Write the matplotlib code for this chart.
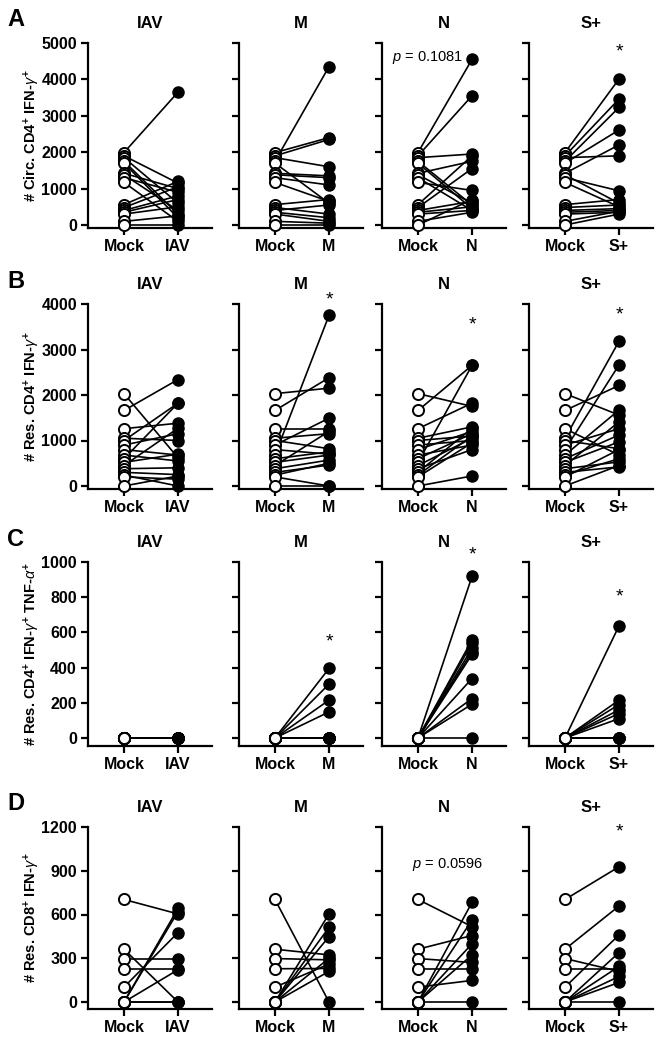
import numpy as np
import matplotlib
matplotlib.use("Agg")
import matplotlib.pyplot as plt

plt.rcParams["font.family"] = ["Liberation Sans", "DejaVu Sans"]
plt.rcParams["mathtext.fontset"] = "custom"
plt.rcParams["mathtext.rm"] = "Liberation Sans"
plt.rcParams["mathtext.it"] = "Liberation Sans:italic"
plt.rcParams["mathtext.bf"] = "Liberation Sans:bold"

#%%-1 data
groups = ["IAV", "M", "N", "S+"]
panel_letters = ["A", "B", "C", "D"]

# row A: circulating CD4+ IFN-g+
mock_a = [1990, 1900, 1850, 1750, 1700, 1420, 1380, 1300, 1170, 560, 480, 400, 350, 300, 100, 0]
iav_a = [3650, 1150, 600, 300, 200, 1000, 400, 900, 100, 1200, 1050, 800, 700, 500, 250, 0]
m_a = [2400, 2350, 1600, 4350, 600, 1350, 1300, 1100, 650, 700, 300, 550, 200, 100, 50, 0]
n_a = [4550, 3550, 1950, 550, 450, 1750, 600, 400, 950, 1900, 1550, 650, 500, 400, 350, 700]
s_a = [4010, 3460, 1900, 3230, 2610, 2200, 600, 940, 500, 700, 550, 450, 400, 350, 380, 300]

# row B: resident CD4+ IFN-g+
mock_b = [2030, 1660, 1260, 1050, 1000, 900, 800, 680, 600, 520, 450, 380, 300, 240, 200, 0]
iav_b = [620, 2340, 1380, 1000, 1820, 1150, 680, 550, 1820, 700, 1270, 400, 250, 0, 150, 220]
m_b = [2150, 2380, 1260, 1150, 820, 1490, 700, 3750, 750, 680, 1200, 570, 460, 500, 0, 0]
n_b = [1750, 2650, 1820, 1300, 1100, 1000, 1200, 900, 1150, 2650, 1050, 800, 1270, 1100, 950, 220]
s_b = [1560, 2210, 680, 3180, 820, 1260, 2660, 1670, 1120, 970, 1410, 530, 420, 600, 800, 450]

# row C: resident CD4+ IFN-g+ TNF-a+
mock_c = [0, 0, 0, 0, 0, 0, 0, 0, 0, 0]
iav_c = [0, 0, 0, 0, 0, 0, 0, 0, 0, 0]
m_c = [395, 306, 215, 148, 0, 0, 0, 0, 0, 0]
n_c = [918, 557, 538, 510, 490, 475, 338, 224, 192, 0]
s_c = [637, 215, 190, 160, 139, 110, 0, 0, 0, 0]

# row D: resident CD8+ IFN-g+
mock_d = [703, 362, 298, 228, 102, 0, 0, 0, 0, 0]
iav_d = [604, 0, 298, 228, 476, 642, 620, 221, 0, 0]
m_d = [0, 323, 289, 230, 260, 604, 512, 448, 210, 300]
n_d = [517, 456, 271, 228, 148, 683, 562, 399, 323, 0]
s_d = [927, 658, 210, 228, 460, 339, 244, 175, 134, 0]

y_maxes = [5000, 4000, 1000, 1200]
y_steps = [1000, 1000, 200, 300]
y_labels = [
    r"# Circ. CD4$^{\mathbf{+}}$ IFN-$\gamma^{\mathbf{+}}$",
    r"# Res. CD4$^{\mathbf{+}}$ IFN-$\gamma^{\mathbf{+}}$",
    r"# Res. CD4$^{\mathbf{+}}$ IFN-$\gamma^{\mathbf{+}}$ TNF-$\alpha^{\mathbf{+}}$",
    r"# Res. CD8$^{\mathbf{+}}$ IFN-$\gamma^{\mathbf{+}}$",
]

# stars / p values: (row, col, y value)
stars = [(0, 3, 4750), (1, 1, 4090), (1, 2, 3540), (1, 3, 3760),
         (2, 1, 545), (2, 2, 1040), (2, 3, 800), (3, 3, 1166)]
p_notes = [(0, 2, 0.17, 4600, "0.1081"), (3, 2, 0.54, 940, "0.0596")]

#%%-2 layout (pixels)
W, H = 665, 1050
col_left = [88, 239, 382, 529]
col_width = 124
# top tick, zero, axis line
row_px = [(43, 225, 228), (304, 486, 489), (562, 738, 746), (827, 1002, 1009)]


def make_axes(fig, r, c):
    top, zero, line = row_px[r]
    ax = fig.add_axes([col_left[c] / W, 1 - line / H, col_width / W, (line - top) / H])
    ymax = y_maxes[r]
    ymin = -(line - zero) / (zero - top) * ymax
    ax.set_ylim(ymin, ymax)
    ax.set_xlim(-36 / 54, 88 / 54)
    for s in ["top", "right"]:
        ax.spines[s].set_visible(False)
    for s in ["left", "bottom"]:
        ax.spines[s].set_linewidth(1.6)
    ax.set_yticks(np.arange(0, ymax + 1, y_steps[r]))
    ax.set_xticks([0, 1])
    ax.set_xticklabels(["Mock", groups[c]], fontsize=11.5, fontweight="bold")
    ax.tick_params(direction="out", length=5, width=1.6, labelsize=11.5, pad=3)
    for lab in ax.get_yticklabels():
        lab.set_fontweight("bold")
    if c > 0:
        ax.set_yticklabels([])
    ax.set_title(groups[c], fontsize=12, fontweight="bold", pad=11)
    return ax


def paired(ax, mock, treat):
    for m, t in zip(mock, treat):
        ax.plot([0, 1], [m, t], color="black", lw=1.2, zorder=2, clip_on=False)
    ax.plot(np.ones(len(treat)), treat, "o", ms=8, mfc="black", mec="black",
            zorder=3, clip_on=False)
    ax.plot(np.zeros(len(mock)), mock, "o", ms=8, mfc="white", mec="black",
            mew=1.4, zorder=4, clip_on=False)


def main():
    fig = plt.figure(figsize=(W / 100, H / 100), dpi=100)
    rows = [
        (mock_a, [iav_a, m_a, n_a, s_a]),
        (mock_b, [iav_b, m_b, n_b, s_b]),
        (mock_c, [iav_c, m_c, n_c, s_c]),
        (mock_d, [iav_d, m_d, n_d, s_d]),
    ]
    axes = {}
    for r, (mock, treats) in enumerate(rows):
        for c, treat in enumerate(treats):
            ax = make_axes(fig, r, c)
            paired(ax, mock, treat)
            axes[(r, c)] = ax
        top, zero, line = row_px[r]
        fig.text(32 / W, 1 - (top + line) / 2 / H, y_labels[r], rotation=90,
                 ha="center", va="center", fontsize=10.5, fontweight="bold")
        fig.text(7 / W, 1 - (top - 23) / H, panel_letters[r], fontsize=17,
                 fontweight="bold", ha="left", va="center")

    for r, c, y in stars:
        axes[(r, c)].text(1, y, "*", ha="center", va="center", fontsize=14)
    for r, c, x, y, val in p_notes:
        axes[(r, c)].text(x, y, r"$p$ = " + val, ha="center", va="center",
                          fontsize=10.5)

    fig.savefig("out.png", dpi=100)


main()
